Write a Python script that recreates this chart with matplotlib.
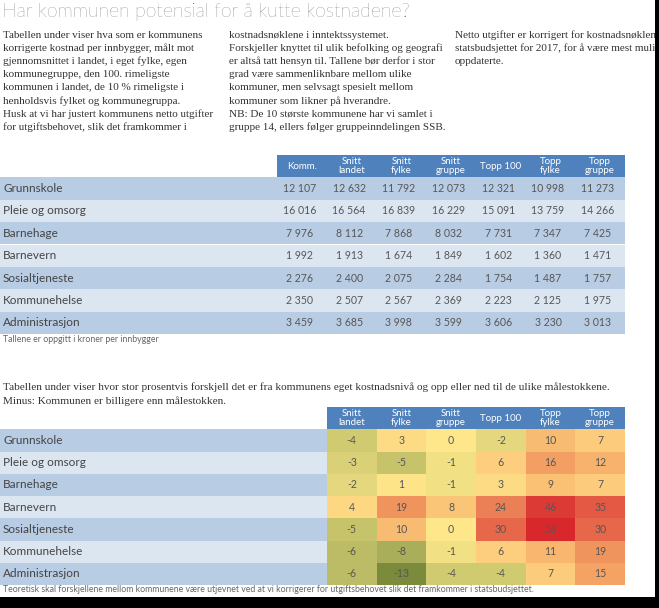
import numpy as np
import matplotlib
matplotlib.use('Agg')
import matplotlib.pyplot as plt
from matplotlib.patches import Rectangle
from matplotlib.colors import LinearSegmentedColormap, TwoSlopeNorm

W, H = 659, 608

tittel = "Har kommunen potensial for å kutte kostnadene?"
ingress = [
    ["Tabellen under viser hva som er kommunens",
     "korrigerte kostnad per innbygger, målt mot",
     "gjennomsnittet i landet, i eget fylke, egen",
     "kommunegruppe, den 100. rimeligste",
     "kommunen i landet, de 10 % rimeligste i",
     "henholdsvis fylket og kommunegruppa.",
     "Husk at vi har justert kommunens netto utgifter",
     "for utgiftsbehovet, slik det framkommer i"],
    ["kostnadsnøklene i inntektssystemet.",
     "Forskjeller knyttet til ulik befolking og geografi",
     "er altså tatt hensyn til. Tallene bør derfor i stor",
     "grad være sammenliknbare mellom ulike",
     "kommuner, men selvsagt spesielt mellom",
     "kommuner som likner på hverandre.",
     "NB: De 10 største kommunene har vi samlet i",
     "gruppe 14, ellers følger gruppeinndelingen SSB."],
    ["Netto utgifter er korrigert for kostnadsnøklene i",
     "statsbudsjettet for 2017, for å være mest mulig",
     "oppdaterte."],
]

tjenester = ['Grunnskole', 'Pleie og omsorg', 'Barnehage', 'Barnevern',
             'Sosialtjeneste', 'Kommunehelse', 'Administrasjon']
kolonner_kr = ['Komm.', 'Snitt\nlandet', 'Snitt\nfylke', 'Snitt\ngruppe',
               'Topp 100', 'Topp\nfylke', 'Topp\ngruppe']
kolonner_pst = kolonner_kr[1:]

kroner = [
    [12107, 12632, 11792, 12073, 12321, 10998, 11273],
    [16016, 16564, 16839, 16229, 15091, 13759, 14266],
    [7976, 8112, 7868, 8032, 7731, 7347, 7425],
    [1992, 1913, 1674, 1849, 1602, 1360, 1471],
    [2276, 2400, 2075, 2284, 1754, 1487, 1757],
    [2350, 2507, 2567, 2369, 2223, 2125, 1975],
    [3459, 3685, 3998, 3599, 3606, 3230, 3013],
]
prosent = [
    [-4, 3, 0, -2, 10, 7],
    [-3, -5, -1, 6, 16, 12],
    [-2, 1, -1, 3, 9, 7],
    [4, 19, 8, 24, 46, 35],
    [-5, 10, 0, 30, 53, 30],
    [-6, -8, -1, 6, 11, 19],
    [-6, -13, -4, -4, 7, 15],
]

tekst2 = ["Tabellen under viser hvor stor prosentvis forskjell det er fra kommunens eget kostnadsnivå og opp eller ned til de ulike målestokkene.",
          "Minus: Kommunen er billigere enn målestokken."]
fotnote1 = "Tallene er oppgitt i kroner per innbygger"
fotnote2 = ("Teoretisk skal forskjellene mellom kommunene være utjevnet ved at vi "
            "korrigerer for utgiftsbehovet slik det framkommer i statsbudsjettet.")

blaa = '#4f81bd'
band = ['#b8cce4', '#dce6f1']
sans = 'Lato'
serif = 'Liberation Serif'
graa = '#575757'


def fx(px):
    return px / W


def fy(py):
    return 1 - py / H


def tall(v):
    s = f"{v:,}".replace(',', ' ')
    return s


fig = plt.figure(figsize=(W / 100, H / 100), dpi=100)
fig.patch.set_facecolor('white')

fig.text(fx(2), fy(12), tittel, fontsize=14, family=sans, fontweight='light',
         color='#444444', va='center', ha='left')

kol_x = [3, 229, 455]
for x0, linjer in zip(kol_x, ingress):
    for i, linje in enumerate(linjer):
        fig.text(fx(x0), fy(35 + i * 13.2), linje, fontsize=8.0, family=serif,
                 color='#333333', va='center', ha='left')

# tabell 1: kroner per innbygger
kw = (625 - 277) / 7
ax1 = fig.add_axes([0, fy(334), fx(625), (334 - 155) / H])
venstre1 = 277 / kw
ax1.set_xlim(-venstre1, len(kolonner_kr))
ax1.set_ylim(len(tjenester), -1)
ax1.set_axis_off()
ax1.barh(np.arange(len(tjenester)) + 0.5, len(kolonner_kr) + venstre1, left=-venstre1,
         height=1, color=[band[i % 2] for i in range(len(tjenester))])
ax1.barh(-0.5, len(kolonner_kr), left=0, height=1, color=blaa)
for j, k in enumerate(kolonner_kr):
    ax1.text(j + 0.5, -0.5, k, ha='center', va='center', color='white',
             fontsize=7, family=sans, linespacing=0.95)
for i, t in enumerate(tjenester):
    ax1.text(-venstre1 + 3 / kw, i + 0.5, t, ha='left', va='center', color='#444444',
             fontsize=8.5, family=sans)
    for j, v in enumerate(kroner[i]):
        ax1.text(j + 0.45, i + 0.5, tall(v), ha='center', va='center', color=graa,
                 fontsize=7.6, family=sans)

fig.text(fx(3), fy(340), fotnote1, fontsize=6.3, family=sans, color='#666666',
         va='center', ha='left')

for i, linje in enumerate(tekst2):
    fig.text(fx(3), fy(387 + i * 14), linje, fontsize=8.1, family=serif,
             color='#333333', va='center', ha='left')

# tabell 2: prosentvis forskjell
kw2 = (625 - 327) / 6
ax2 = fig.add_axes([0, fy(585), fx(625), (585 - 407) / H])
venstre2 = 327 / kw2
ax2.set_xlim(-venstre2, len(kolonner_pst))
ax2.set_ylim(len(tjenester), -1)
ax2.set_axis_off()
ax2.barh(np.arange(len(tjenester)) + 0.5, venstre2, left=-venstre2, height=1,
         color=[band[i % 2] for i in range(len(tjenester))])
ax2.barh(-0.5, len(kolonner_pst), left=0, height=1, color=blaa)

cmap = LinearSegmentedColormap.from_list('kost', [
    (0.0, '#7b8a3b'), (0.27, '#bcbd66'), (0.42, '#e4d67c'), (0.5, '#fee88c'),
    (0.56, '#fccd7c'), (0.64, '#f4a465'), (0.78, '#e6684b'), (1.0, '#d8282b')])
norm = TwoSlopeNorm(vmin=-13, vcenter=0, vmax=53)
ax2.pcolormesh(np.arange(len(kolonner_pst) + 1), np.arange(len(tjenester) + 1),
               np.array(prosent), cmap=cmap, norm=norm, shading='flat')

for j, k in enumerate(kolonner_pst):
    ax2.text(j + 0.5, -0.5, k, ha='center', va='center', color='white',
             fontsize=7, family=sans, linespacing=0.95)
for i, t in enumerate(tjenester):
    ax2.text(-venstre2 + 3 / kw2, i + 0.5, t, ha='left', va='center', color='#444444',
             fontsize=8.5, family=sans)
    for j, v in enumerate(prosent[i]):
        ax2.text(j + 0.5, i + 0.5, str(v), ha='center', va='center', color=graa,
                 fontsize=7.6, family=sans)

fig.text(fx(3), fy(590), fotnote2, fontsize=6.3, family=sans, color='#666666',
         va='center', ha='left')

# svart ramme nederst og til høyre
fig.add_artist(Rectangle((fx(655), 0), 1 - fx(655), 1, transform=fig.transFigure,
                         facecolor='black', edgecolor='none', zorder=20))
fig.add_artist(Rectangle((0, 0), 1, fy(597), transform=fig.transFigure,
                         facecolor='black', edgecolor='none', zorder=20))

fig.savefig('out.png', dpi=100, facecolor=fig.get_facecolor())
